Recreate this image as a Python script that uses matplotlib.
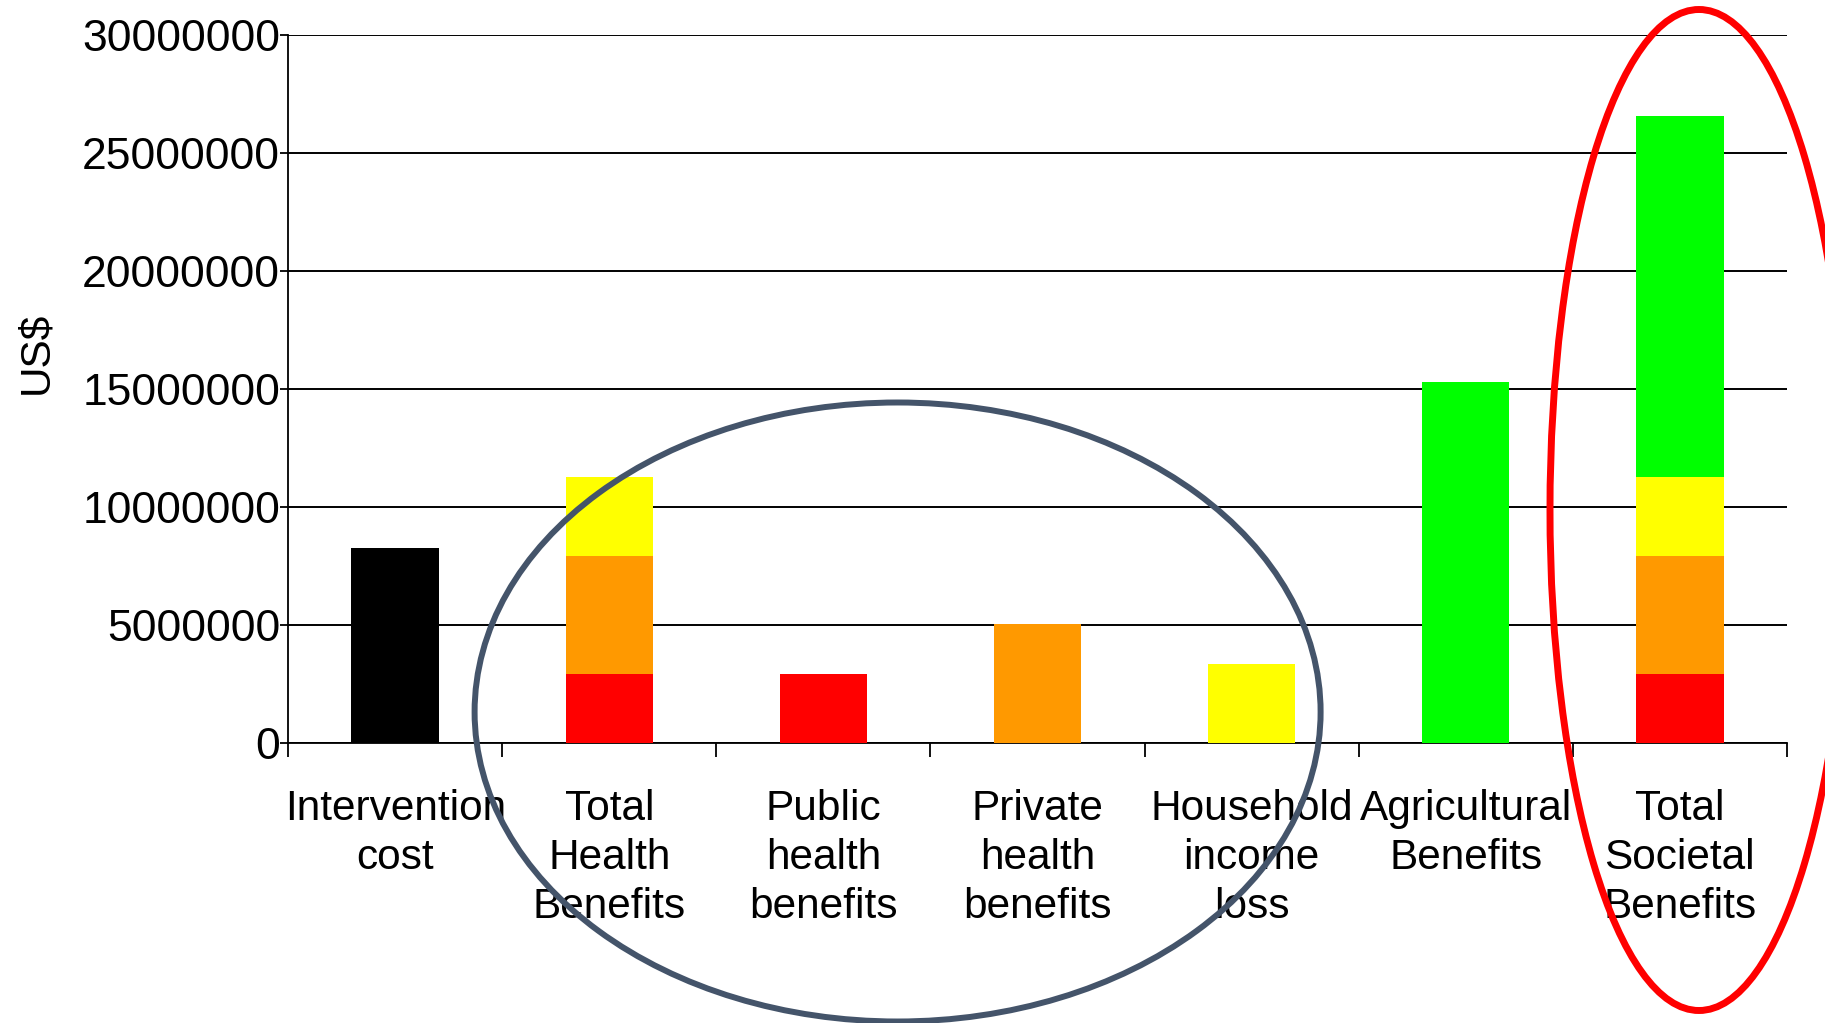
import numpy as np
import matplotlib
matplotlib.use('Agg')
import matplotlib.pyplot as plt
from matplotlib.patches import Ellipse

# data (US$)
categories = ['Intervention\ncost', 'Total\nHealth\nBenefits', 'Public\nhealth\nbenefits',
              'Private\nhealth\nbenefits', 'Household\nincome\nloss', 'Agricultural\nBenefits',
              'Total\nSocietal\nBenefits']
cost      = [8250000, 0, 0, 0, 0, 0, 0]
public    = [0, 2900000, 2900000, 0, 0, 0, 2900000]
private   = [0, 5030000, 0, 5030000, 0, 0, 5030000]
household = [0, 3320000, 0, 0, 3320000, 0, 3320000]
agri      = [0, 0, 0, 0, 0, 15300000, 15300000]
yticks = [0, 5000000, 10000000, 15000000, 20000000, 25000000, 30000000]

plt.rcParams['font.family'] = ['Liberation Sans', 'DejaVu Sans']
fontSize = 30.5

fig = plt.figure(figsize=(18.25, 10.23), dpi=100, facecolor='w')
ax = fig.add_axes([0.158, 0.274, 0.821, 0.692])

x = np.arange(len(categories))
w = 0.41
ax.bar(x, cost, w, color='black', zorder=3)
bottom = np.zeros(len(x))
for vals, col in [(public, '#FF0000'), (private, '#FF9900'),
                  (household, '#FFFF00'), (agri, '#00FF00')]:
    ax.bar(x, vals, w, bottom=bottom, color=col, zorder=3)
    bottom += np.array(vals)

ax.set_xlim(-0.5, len(x) - 0.5)
ax.set_ylim(0, 30000000)
ax.set_yticks(yticks)
ax.set_yticklabels([str(v) for v in yticks], fontsize=32)
ax.yaxis.grid(True, color='black', linewidth=1.4, zorder=0)
ax.set_axisbelow(True)

# category boundaries as major ticks, labels on minor ticks
ax.set_xticks(np.arange(len(x) + 1) - 0.5)
ax.set_xticklabels([])
ax.set_xticks(x, minor=True)
ax.set_xticklabels(categories, minor=True, fontsize=fontSize, linespacing=1.3)
ax.tick_params(axis='x', which='major', length=10, width=1.3, direction='out')
ax.tick_params(axis='x', which='minor', length=0, pad=33)
ax.tick_params(axis='y', length=6, width=1.3, pad=0)

ax.spines['top'].set_visible(False)
ax.spines['right'].set_visible(False)
ax.spines['left'].set_linewidth(1.3)
ax.spines['bottom'].set_linewidth(1.3)

ax.set_ylabel('US$', fontsize=fontSize)
ax.yaxis.set_label_coords(-0.155, 0.55)

# highlight ellipses (figure fractions)
fig.add_artist(Ellipse((897.6 / 1825, 1 - 712 / 1023), 846 / 1825, 619 / 1023,
                       transform=fig.transFigure, fill=False, edgecolor='#44546A',
                       linewidth=4.3, zorder=10))
fig.add_artist(Ellipse((1699 / 1825, 1 - 510 / 1023), 298 / 1825, 1001 / 1023,
                       transform=fig.transFigure, fill=False, edgecolor='#FF0000',
                       linewidth=5, zorder=10))

fig.savefig('out.png', dpi=100)
